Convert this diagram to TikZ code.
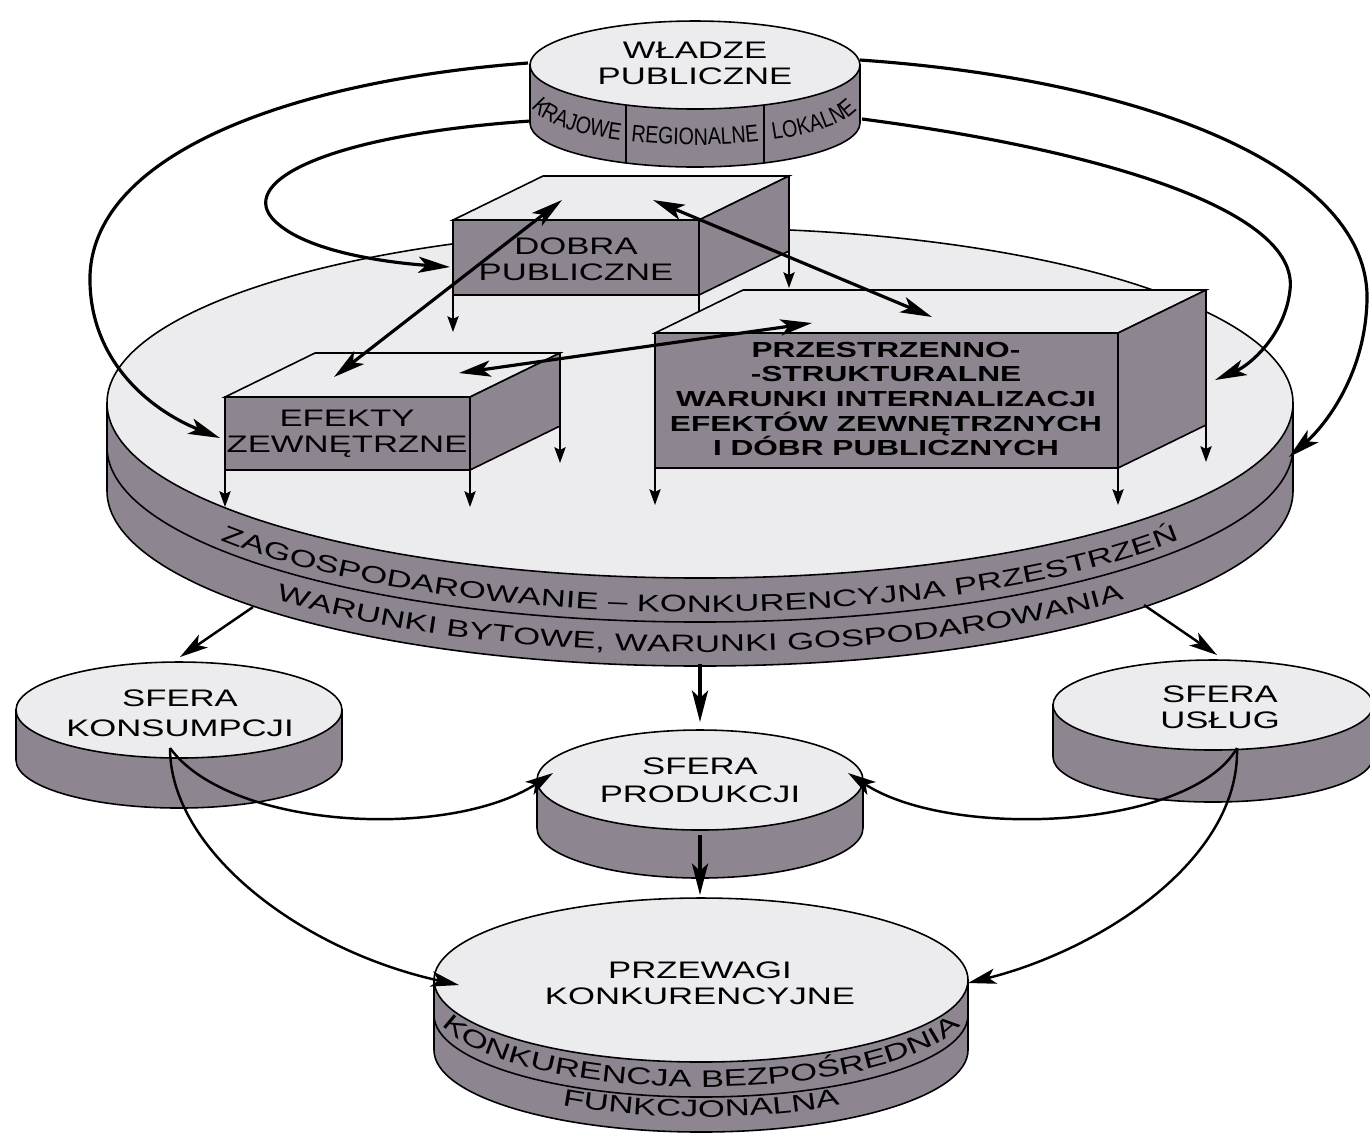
\documentclass[tikz,border=0pt]{standalone}
\usepackage{fontspec}
\usetikzlibrary{arrows.meta,decorations.text}
\newfontfamily\widesans[FakeStretch=1.45]{Liberation Sans}
\newfontfamily\narrowsans[FakeStretch=0.82]{Liberation Sans}
\newcommand{\labelfont}{\widesans\fontsize{6.8}{7.4}\selectfont}
\newcommand{\boldlabelfont}{\widesans\bfseries\fontsize{6.2}{7}\selectfont}
\newcommand{\ringfont}{\narrowsans\fontsize{6.8}{7.4}\selectfont}
\definecolor{topgray}{RGB}{236,235,237}
\definecolor{sidegray}{RGB}{141,133,144}

% disk: centre x, centre y, x radius, y radius, height
\newcommand{\drawdisk}[5]{%
  \filldraw[sideface] (#1-#3,#2) -- ++(0,-#5)
    arc[start angle=180, end angle=360, x radius=#3, y radius=#4] -- ++(0,#5) -- cycle;
  \filldraw[topface] (#1,#2) ellipse[x radius=#3, y radius=#4];}
% box: left, right, top, bottom of front face (y down), depth x, depth y
\newcommand{\drawbox}[6]{%
  \filldraw[topface] (#1,-#3) -- ++(#5,#6) -- ++(#2-#1,0) -- (#2,-#3) -- cycle;
  \filldraw[sideface] (#2,-#3) -- ++(#5,#6) -- ++(0,#3-#4) -- (#2,-#4) -- cycle;
  \filldraw[sideface] (#1,-#3) rectangle (#2,-#4);
  \draw[leg] (#1,-#4) -- ++(0,-37);
  \draw[leg] (#2,-#4) -- ++(0,-37);
  \draw[leg] (#2+#5,-#4+#6) -- ++(0,-37);}

\begin{document}
\begin{tikzpicture}[x=0.01cm, y=0.01cm,
    outline/.style={draw=black, line width=0.45pt},
    topface/.style={outline, fill=topgray},
    sideface/.style={outline, fill=sidegray},
    label/.style={font=\labelfont, align=center, inner sep=0pt},
    link/.style={line width=0.9pt, -{Stealth[length=9pt,width=4.6pt,inset=2.2pt]}},
    twoway/.style={line width=0.9pt, {Stealth[length=9pt,width=4.6pt,inset=2.2pt]}-{Stealth[length=9pt,width=4.6pt,inset=2.2pt]}},
    feed/.style={line width=0.7pt, -{Stealth[length=8pt,width=4.4pt,inset=2pt]}},
    leg/.style={line width=0.5pt, -{Stealth[length=4.5pt,width=3.2pt,inset=0.8pt]}},
    bandtext/.style={decorate, decoration={text along path, text align=center, text={#1}}}]
    \fill[white] (0,0) rectangle (1370,-1135);
    \useasboundingbox (0,0) rectangle (1370,-1135);

    % platform: zagospodarowanie
    \drawdisk{700}{-403}{593}{175}{88}
    \draw[outline] (107,-447) arc[start angle=180, end angle=360, x radius=593, y radius=175];
    \path[bandtext={|\labelfont|ZAGOSPODAROWANIE – KONKURENCYJNA PRZESTRZEŃ}]
        (107,-437) arc[start angle=180, end angle=360, x radius=593, y radius=175];
    \path[bandtext={|\labelfont|WARUNKI BYTOWE, WARUNKI GOSPODAROWANIA}]
        (107,-477) arc[start angle=180, end angle=360, x radius=593, y radius=175];

    % ends of the connectors
    \coordinate (gov-outL) at (528,-63);
    \coordinate (gov-inL) at (530,-121);
    \coordinate (gov-outR) at (860,-60);
    \coordinate (gov-inR) at (862,-119);
    \coordinate (ext-in) at (220,-438);
    \coordinate (pub-in) at (450,-267);
    \coordinate (cond-in) at (1215,-380);
    \coordinate (plat-in) at (1289,-457);

    % authorities -> platform
    \draw[link] (gov-outL) .. controls (300,-80) and (95,-150) .. (90,-275)
        .. controls (88,-360) and (150,-410) .. (ext-in);
    \draw[link] (gov-inL) .. controls (330,-135) and (240,-180) .. (272,-218)
        .. controls (300,-250) and (380,-262) .. (pub-in);
    \draw[link] (gov-inR) .. controls (1100,-150) and (1300,-210) .. (1290,-290)
        .. controls (1285,-335) and (1250,-365) .. (cond-in);
    \draw[link] (gov-outR) .. controls (1150,-80) and (1370,-170) .. (1367,-300)
        .. controls (1365,-380) and (1320,-430) .. (plat-in);

    % boxes on the platform
    \drawbox{453}{699}{220}{295}{90}{44}
    \node[label] (public) at (576,-259) {DOBRA\\PUBLICZNE};
    \drawbox{655}{1118}{333}{468}{88}{43}
    \node[label, font=\boldlabelfont] (cond) at (886,-399)
        {PRZESTRZENNO-\\-STRUKTURALNE\\WARUNKI INTERNALIZACJI\\EFEKTÓW ZEWNĘTRZNYCH\\I DÓBR PUBLICZNYCH};
    \drawbox{225}{470}{397}{470}{90}{44}
    \node[label] (extern) at (347,-434) {EFEKTY\\ZEWNĘTRZNE};

    % links between the boxes
    \coordinate (pub-a) at (562,-200);
    \coordinate (ext-a) at (334,-377);
    \coordinate (pub-b) at (653,-200);
    \coordinate (cond-a) at (932,-317);
    \coordinate (ext-b) at (459,-373);
    \coordinate (cond-b) at (812,-323);
    \draw[twoway] (pub-a) -- (ext-a);
    \draw[twoway] (pub-b) -- (cond-a);
    \draw[twoway] (ext-b) -- (cond-b);

    % public authorities
    \drawdisk{695}{-65}{165}{44}{58}
    \draw[outline] (626,-105) -- (626,-163);
    \draw[outline] (764,-105) -- (764,-163);
    \path[bandtext={|\ringfont|KRAJOWE}]
        (695,-101) ++(180:165 and 44) arc[start angle=180, end angle=245.3, x radius=165, y radius=44];
    \path[bandtext={|\ringfont|REGIONALNE}]
        (695,-101) ++(245.3:165 and 44) arc[start angle=245.3, end angle=294.7, x radius=165, y radius=44];
    \path[bandtext={|\ringfont|LOKALNE}]
        (695,-101) ++(294.7:165 and 44) arc[start angle=294.7, end angle=360, x radius=165, y radius=44];
    \node[label] (gov) at (695,-63) {WŁADZE\\PUBLICZNE};

    % spheres
    \drawdisk{179}{-710}{163}{48}{50}
    \node[label, font=\widesans\fontsize{6.8}{8.4}\selectfont] (cons) at (180,-713) {SFERA\\KONSUMPCJI};
    \drawdisk{1213}{-705}{160}{45}{52}
    \node[label] (serv) at (1220,-707) {SFERA\\USŁUG};
    \drawdisk{700}{-780}{163}{50}{48}
    \node[label, font=\widesans\fontsize{6.8}{8}\selectfont] (prod) at (700,-780) {SFERA\\PRODUKCJI};

    % competitive advantages
    \drawdisk{701}{-980}{267}{82}{70}
    \draw[outline] (434,-1015) arc[start angle=180, end angle=360, x radius=267, y radius=82];
    \node[label] (adv) at (700,-983) {PRZEWAGI\\KONKURENCYJNE};
    \path[bandtext={|\labelfont|KONKURENCJA BEZPOŚREDNIA}]
        (434,-1005) arc[start angle=180, end angle=360, x radius=267, y radius=82];
    \path[bandtext={|\labelfont|FUNKCJONALNA}]
        (434,-1035) arc[start angle=180, end angle=360, x radius=267, y radius=82];

    % flows below the platform
    \coordinate (plat-sw) at (253,-607);
    \coordinate (cons-in) at (180,-657);
    \coordinate (plat-se) at (1144,-605);
    \coordinate (serv-in) at (1217,-655);
    \coordinate (plat-s) at (700,-664);
    \coordinate (prod-in) at (700,-722);
    \coordinate (prod-s) at (700,-835);
    \coordinate (adv-in) at (700,-895);
    \coordinate (cons-out) at (170,-748);
    \coordinate (serv-out) at (1237,-748);
    \coordinate (prod-w) at (553,-773);
    \coordinate (prod-e) at (848,-773);
    \coordinate (adv-w) at (459,-985);
    \coordinate (adv-e) at (968,-983);
    \draw[feed] (plat-sw) -- (cons-in);
    \draw[feed] (plat-se) -- (serv-in);
    \draw[link] (plat-s) -- (prod-in);
    \draw[link] (prod-s) -- (adv-in);
    \draw[feed] (cons-out) .. controls (230,-830) and (450,-840) .. (prod-w);
    \draw[feed] (serv-out) .. controls (1190,-830) and (950,-840) .. (prod-e);
    \draw[feed] (cons-out) .. controls (170,-850) and (300,-950) .. (adv-w);
    \draw[feed] (serv-out) .. controls (1240,-860) and (1100,-950) .. (adv-e);
\end{tikzpicture}
\end{document}
